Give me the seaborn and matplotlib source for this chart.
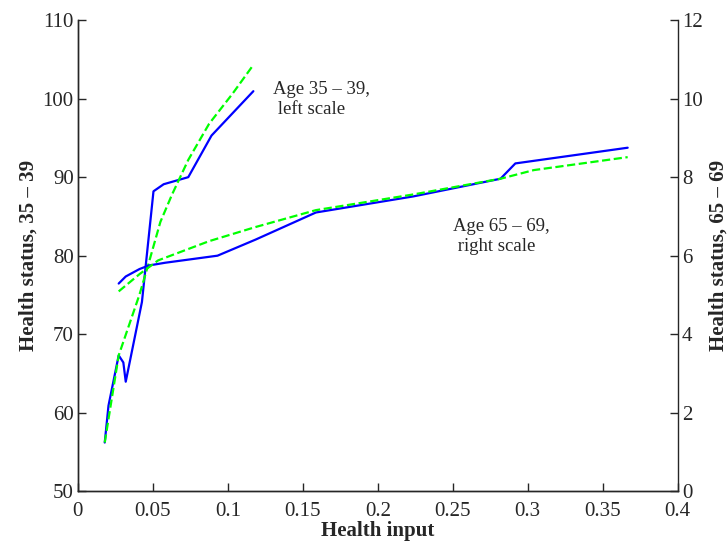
import numpy as np
import pandas as pd
import seaborn as sns
import matplotlib.pyplot as plt
from matplotlib.ticker import FuncFormatter

sns.set_style("ticks")
plt.rcParams['font.family'] = ['Liberation Serif', 'DejaVu Serif']

# age 35-39, left scale
x_young = [0.0179, 0.0204, 0.0272, 0.0303, 0.0319, 0.0427, 0.0504, 0.0572, 0.0736, 0.0891, 0.117]
y_young = [56.2, 60.9, 67.3, 66.4, 63.95, 74.1, 88.2, 89.1, 90.0, 95.3, 100.95]
x_young_fit = [0.0179, 0.0272, 0.041, 0.0467, 0.055, 0.0628, 0.0736, 0.0875, 0.103, 0.117]
y_young_fit = [56.2, 67.3, 75.0, 78.7, 84.3, 87.8, 92.2, 96.8, 100.6, 104.3]

# age 65-69, right scale
x_old = [0.0272, 0.0319, 0.0411, 0.0473, 0.0582, 0.0931, 0.1185, 0.1587, 0.2237, 0.2818, 0.2917, 0.3666]
y_old = [5.29, 5.47, 5.66, 5.75, 5.82, 6.0, 6.41, 7.10, 7.51, 7.96, 8.35, 8.75]
x_old_fit = [0.0272, 0.0411, 0.0535, 0.0875, 0.1185, 0.1587, 0.2237, 0.2818, 0.304, 0.3666]
y_old_fit = [5.09, 5.53, 5.88, 6.37, 6.73, 7.16, 7.56, 7.96, 8.18, 8.51]

fig = plt.figure(figsize=(7.28, 5.44), dpi=100)
ax = fig.add_axes([0.107, 0.097, 0.824, 0.866])
ax2 = ax.twinx()

sns.lineplot(x=x_young, y=y_young, ax=ax, color=(0, 0, 1), lw=1.6, sort=False)
sns.lineplot(x=x_young_fit, y=y_young_fit, ax=ax, color=(0, 1, 0), lw=1.6, sort=False, linestyle='--')
sns.lineplot(x=x_old, y=y_old, ax=ax2, color=(0, 0, 1), lw=1.6, sort=False)
sns.lineplot(x=x_old_fit, y=y_old_fit, ax=ax2, color=(0, 1, 0), lw=1.6, sort=False, linestyle='--')

ax.set_xlim(0, 0.4)
ax.set_ylim(50, 110)
ax2.set_ylim(0, 12)
ax.set_xticks(np.arange(0, 0.41, 0.05))
ax.set_yticks(range(50, 111, 10))
ax2.set_yticks(range(0, 13, 2))
ax.xaxis.set_major_formatter(FuncFormatter(lambda v, p: "%g" % round(v, 2)))

for a in (ax, ax2):
    a.spines['top'].set_visible(False)
    a.tick_params(direction='in', length=6, width=1, labelsize=15, pad=3)
    for s in a.spines.values():
        s.set_linewidth(1)
ax.spines['right'].set_visible(False)
ax.tick_params(axis='x', pad=8)

ax.set_xlabel("Health input", fontsize=15, fontweight='bold', labelpad=0)
ax.set_ylabel("Health status, 35 – 39", fontsize=15, fontweight='bold', labelpad=3)
ax2.set_ylabel("Health status, 65 – 69", fontsize=15, fontweight='bold', labelpad=4)

ax.text(0.13, 102.3, "Age 35 – 39,\n left scale", fontsize=13.5, va='top', ha='left', linespacing=1.25)
ax.text(0.25, 84.8, "Age 65 – 69,\n right scale", fontsize=13.5, va='top', ha='left', linespacing=1.25)

fig.savefig("out.png", dpi=100)
